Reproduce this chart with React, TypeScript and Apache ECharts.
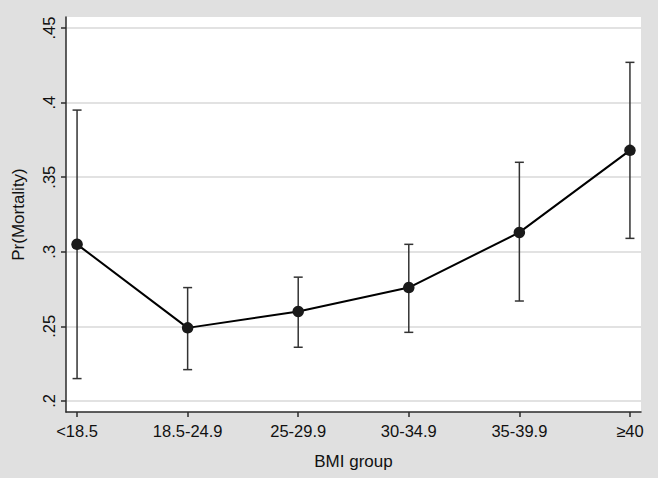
import React, { useEffect, useRef } from "react";
import * as echarts from "echarts";

const categories = ["<18.5", "18.5-24.9", "25-29.9", "30-34.9", "35-39.9", "≥40"];
const estimates = [0.305, 0.249, 0.26, 0.276, 0.313, 0.368];
const lowerCI = [0.215, 0.221, 0.236, 0.246, 0.267, 0.309];
const upperCI = [0.395, 0.276, 0.283, 0.305, 0.36, 0.427];
const yTickValues = [0.2, 0.25, 0.3, 0.35, 0.4, 0.45];
const yTickLabels = [".2", ".25", ".3", ".35", ".4", ".45"];
const xTickValues = [0, 1, 2, 3, 4, 5];

const FONT = "'Liberation Sans', Arial, Helvetica, sans-serif";

export default function App() {
  const ref = useRef<HTMLDivElement>(null);

  useEffect(() => {
    document.body.style.margin = "0";
    if (!ref.current) return;
    const chart = echarts.init(ref.current, undefined, { renderer: "svg" });

    const pointData = estimates.map((v, i) => [i, v]);
    const ciData = estimates.map((_, i) => [i, lowerCI[i], upperCI[i]]);

    const option: any = {
      animation: false,
      backgroundColor: "#e0e0e0",
      textStyle: { fontFamily: FONT },
      grid: {
        left: 66,
        right: 17,
        top: 17,
        bottom: 66,
        show: true,
        backgroundColor: "#ffffff",
        borderWidth: 0,
      },
      xAxis: {
        type: "value",
        min: -0.1,
        max: 5.1,
        name: "BMI group",
        nameLocation: "middle",
        nameGap: 41,
        nameTextStyle: { fontSize: 17, color: "#111", fontFamily: FONT },
        axisLine: { show: true, onZero: false, lineStyle: { color: "#2b2b2b", width: 1.5 } },
        axisTick: {
          show: true,
          customValues: xTickValues,
          length: 5,
          lineStyle: { color: "#2b2b2b", width: 1.5 },
        },
        axisLabel: {
          customValues: xTickValues,
          formatter: (v: number) => categories[Math.round(v)] ?? "",
          fontSize: 16.5,
          color: "#111",
          margin: 10,
          fontFamily: FONT,
        },
        splitLine: { show: false },
      },
      yAxis: {
        type: "value",
        min: 0.1926,
        max: 0.4574,
        name: "Pr(Mortality)",
        nameLocation: "middle",
        nameRotate: 90,
        nameGap: 39,
        nameTextStyle: { fontSize: 17, color: "#111", fontFamily: FONT },
        axisLine: { show: true, onZero: false, lineStyle: { color: "#2b2b2b", width: 1.5 } },
        axisTick: {
          show: true,
          customValues: yTickValues,
          length: 5,
          lineStyle: { color: "#2b2b2b", width: 1.5 },
        },
        axisLabel: {
          customValues: yTickValues,
          rotate: 90,
          formatter: (v: number) => {
            const idx = yTickValues.findIndex((t) => Math.abs(t - v) < 1e-6);
            return idx >= 0 ? yTickLabels[idx] : "";
          },
          fontSize: 16.5,
          color: "#111",
          margin: 9,
          fontFamily: FONT,
        },
        splitLine: { show: true, lineStyle: { color: "#d8d8d8", width: 1.5 } },
      },
      series: [
        {
          type: "custom",
          name: "CI",
          z: 2,
          data: ciData,
          encode: { x: 0, y: [1, 2] },
          renderItem: (params: any, api: any) => {
            const x = api.value(0);
            const lo = api.coord([x, api.value(1)]);
            const hi = api.coord([x, api.value(2)]);
            const cap = 4.5;
            const style = { stroke: "#333333", lineWidth: 1.5 };
            return {
              type: "group",
              children: [
                { type: "line", shape: { x1: lo[0], y1: lo[1], x2: hi[0], y2: hi[1] }, style },
                { type: "line", shape: { x1: lo[0] - cap, y1: lo[1], x2: lo[0] + cap, y2: lo[1] }, style },
                { type: "line", shape: { x1: hi[0] - cap, y1: hi[1], x2: hi[0] + cap, y2: hi[1] }, style },
              ],
            };
          },
        },
        {
          type: "line",
          name: "Pr(Mortality)",
          z: 3,
          data: pointData,
          symbol: "circle",
          symbolSize: 11.5,
          itemStyle: { color: "#1a1a1a" },
          lineStyle: { color: "#000000", width: 2 },
        },
      ],
    };

    chart.setOption(option);
    return () => chart.dispose();
  }, []);

  return (
    <div
      ref={ref}
      style={{ position: "fixed", left: 0, top: 0, width: 658, height: 478 }}
    />
  );
}
